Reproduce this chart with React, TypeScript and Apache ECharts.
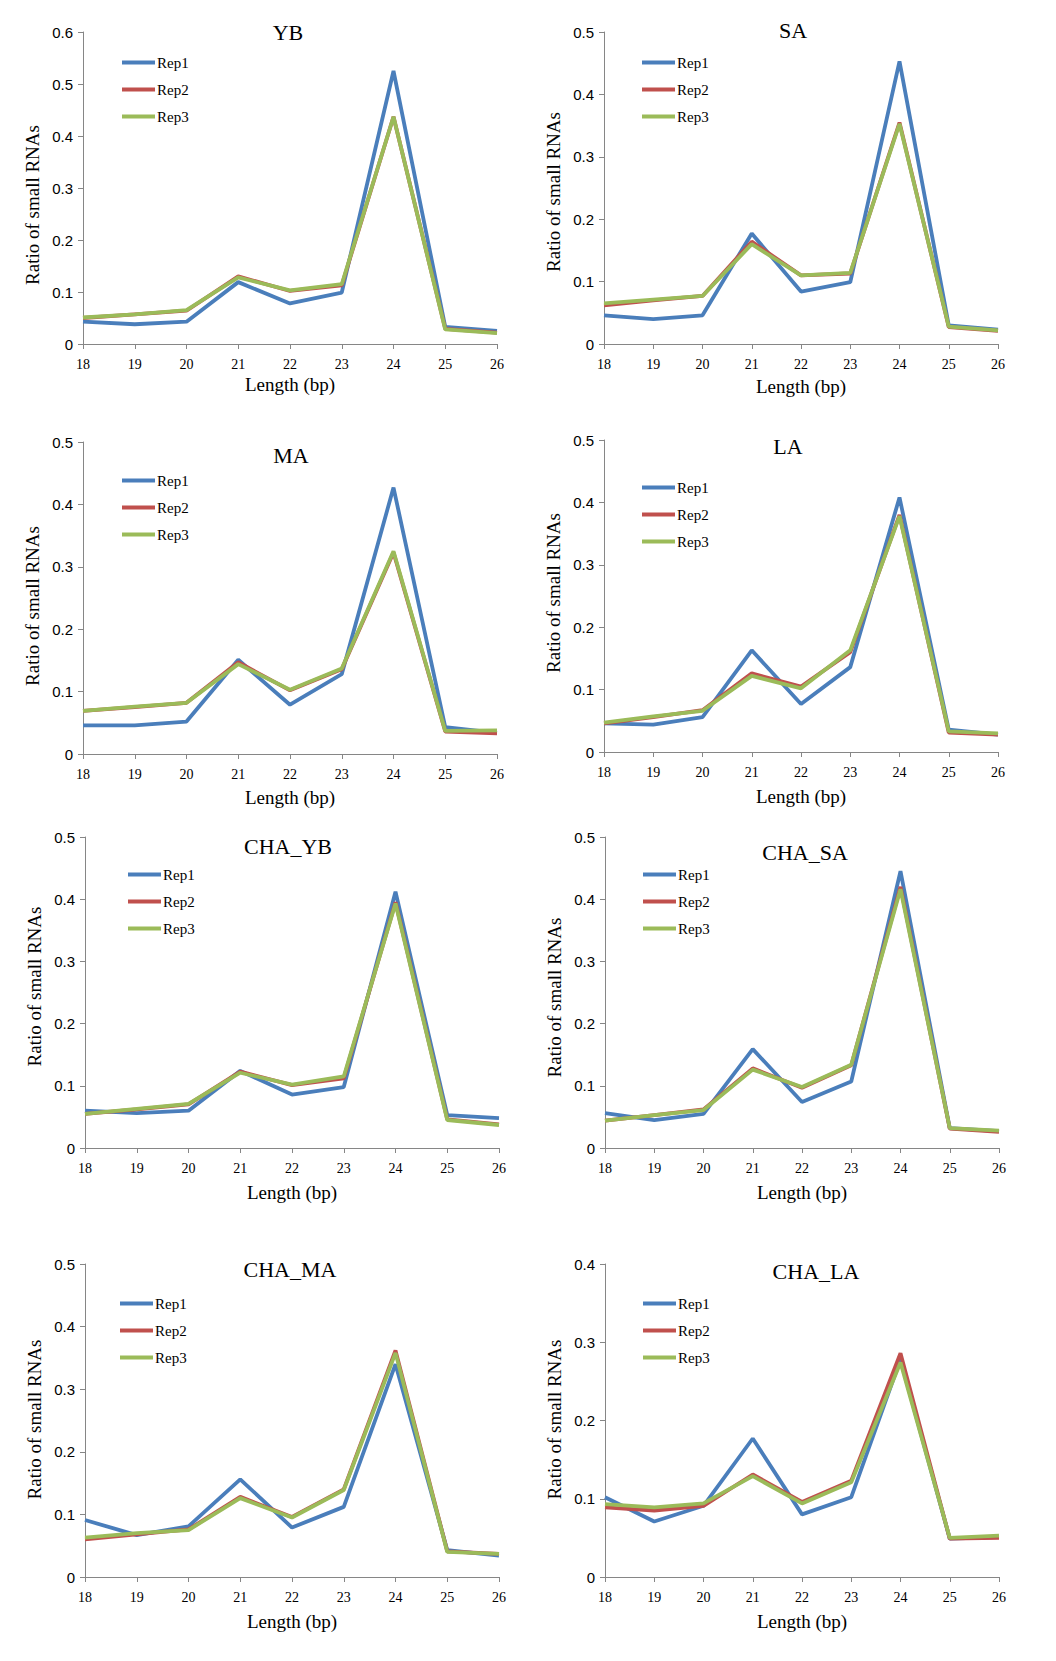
import React, { useEffect, useRef } from 'react';
import * as echarts from 'echarts';

// x categories (small RNA length, bp)
const lengths = ['18', '19', '20', '21', '22', '23', '24', '25', '26'];
const repNames = ['Rep1', 'Rep2', 'Rep3'];
const repColors = ['#4A7EBB', '#C0504D', '#9BBB59'];

const panelTitles = ['YB', 'SA', 'MA', 'LA', 'CHA_YB', 'CHA_SA', 'CHA_MA', 'CHA_LA'];
const yMaxes = [0.6, 0.5, 0.5, 0.5, 0.5, 0.5, 0.5, 0.4];

// each row: Rep1, Rep2, Rep3
const ybReps = [
  [0.043, 0.038, 0.043, 0.119, 0.078, 0.099, 0.525, 0.033, 0.025],
  [0.05, 0.057, 0.064, 0.13, 0.102, 0.113, 0.437, 0.029, 0.022],
  [0.051, 0.057, 0.065, 0.128, 0.103, 0.115, 0.437, 0.028, 0.021],
];
const saReps = [
  [0.046, 0.04, 0.046, 0.177, 0.084, 0.099, 0.453, 0.03, 0.023],
  [0.062, 0.07, 0.077, 0.164, 0.11, 0.113, 0.355, 0.027, 0.021],
  [0.065, 0.071, 0.077, 0.16, 0.11, 0.114, 0.353, 0.028, 0.022],
];
const maReps = [
  [0.046, 0.046, 0.052, 0.151, 0.079, 0.128, 0.427, 0.043, 0.034],
  [0.069, 0.075, 0.082, 0.147, 0.102, 0.136, 0.323, 0.036, 0.033],
  [0.069, 0.076, 0.082, 0.144, 0.103, 0.137, 0.325, 0.037, 0.038],
];
const laReps = [
  [0.046, 0.044, 0.056, 0.163, 0.077, 0.136, 0.408, 0.036, 0.028],
  [0.046, 0.056, 0.067, 0.126, 0.105, 0.16, 0.38, 0.031, 0.028],
  [0.047, 0.057, 0.066, 0.122, 0.102, 0.163, 0.378, 0.033, 0.03],
];
const chaYbReps = [
  [0.06, 0.056, 0.06, 0.124, 0.086, 0.098, 0.412, 0.053, 0.048],
  [0.055, 0.062, 0.07, 0.123, 0.101, 0.112, 0.395, 0.046, 0.038],
  [0.055, 0.063, 0.071, 0.121, 0.102, 0.115, 0.393, 0.045, 0.037],
];
const chaSaReps = [
  [0.056, 0.045, 0.055, 0.159, 0.074, 0.107, 0.445, 0.032, 0.027],
  [0.044, 0.053, 0.062, 0.128, 0.097, 0.133, 0.42, 0.031, 0.026],
  [0.044, 0.053, 0.061, 0.126, 0.098, 0.134, 0.416, 0.032, 0.028],
];
const chaMaReps = [
  [0.091, 0.067, 0.081, 0.156, 0.079, 0.112, 0.34, 0.043, 0.034],
  [0.06, 0.068, 0.076, 0.128, 0.096, 0.14, 0.362, 0.041, 0.037],
  [0.063, 0.07, 0.075, 0.126, 0.095, 0.139, 0.358, 0.04, 0.037],
];
const chaLaReps = [
  [0.102, 0.071, 0.091, 0.177, 0.08, 0.102, 0.278, 0.049, 0.051],
  [0.089, 0.085, 0.091, 0.131, 0.096, 0.123, 0.286, 0.049, 0.05],
  [0.093, 0.089, 0.094, 0.129, 0.094, 0.121, 0.274, 0.05, 0.053],
];

const panelData = [ybReps, saReps, maReps, laReps, chaYbReps, chaSaReps, chaMaReps, chaLaReps];

// layout: plot box, title centre, legend top-left, y-name shift
const grids = [
  { left: 83, top: 32, width: 414, height: 312 },
  { left: 604, top: 32, width: 394, height: 312 },
  { left: 83, top: 442, width: 414, height: 312 },
  { left: 604, top: 440, width: 394, height: 312 },
  { left: 85, top: 837, width: 414, height: 311 },
  { left: 605, top: 837, width: 394, height: 311 },
  { left: 85, top: 1264, width: 414, height: 313 },
  { left: 605, top: 1264, width: 394, height: 313 },
];
const titlePos = [
  [283, 29], [788, 27], [286, 452], [783, 443],
  [283, 843], [800, 849], [285, 1266], [811, 1268],
];
const legendPos = [
  [117, 58], [637, 58], [117, 476], [637, 483],
  [123, 870], [638, 870], [115, 1299], [638, 1299],
];
const yNameShift = [17, 4, 8, -3, -6, 5, -1, -1];
const xNameGap = [31, 33, 34, 35, 35, 35, 35, 35];

const serif = 'Liberation Serif';
const sans = 'Liberation Sans';

const App: React.FC = () => {
  const chartRef = useRef<HTMLDivElement | null>(null);

  useEffect(() => {
    if (!chartRef.current) return;
    const chart = echarts.init(chartRef.current, undefined, { renderer: 'svg' });

    const series: any[] = [];
    panelData.forEach((reps, p) => {
      reps.forEach((values, r) => {
        series.push({
          type: 'line',
          name: repNames[r],
          xAxisIndex: p,
          yAxisIndex: p,
          data: values,
          symbol: 'none',
          lineStyle: { color: repColors[r], width: 3.8 },
          itemStyle: { color: repColors[r] },
          z: 2 + r,
        });
      });
    });

    const option = {
      animation: false,
      backgroundColor: '#fff',
      title: panelTitles.map((t, i) => ({
        text: t,
        left: titlePos[i][0],
        top: titlePos[i][1] - 13,
        textAlign: 'center',
        textStyle: { fontFamily: serif, fontSize: 22, fontWeight: 'normal', color: '#000' },
      })),
      legend: legendPos.map((pos) => ({
        data: repNames,
        orient: 'vertical',
        left: pos[0],
        top: pos[1] - 8,
        icon: 'rect',
        itemWidth: 33,
        itemHeight: 4,
        itemGap: 12,
        selectedMode: false,
        textStyle: { fontFamily: serif, fontSize: 15, color: '#000', padding: [0, 0, 0, -3] },
      })),
      grid: grids.map((g) => ({ ...g, containLabel: false })),
      xAxis: grids.map((_, i) => ({
        type: 'category',
        gridIndex: i,
        data: lengths,
        boundaryGap: false,
        name: 'Length (bp)',
        nameLocation: 'middle',
        nameGap: xNameGap[i],
        nameTextStyle: { fontFamily: serif, fontSize: 19, color: '#000' },
        axisLine: { show: true, lineStyle: { color: '#868686', width: 1 } },
        axisTick: { show: true, length: 5, alignWithLabel: true, lineStyle: { color: '#868686' } },
        axisLabel: { fontFamily: serif, fontSize: 14, color: '#000', margin: 13 },
        splitLine: { show: false },
      })),
      yAxis: grids.map((_, i) => {
        const s = yNameShift[i];
        return {
          type: 'value',
          gridIndex: i,
          min: 0,
          max: yMaxes[i],
          interval: 0.1,
          name: 'Ratio of small RNAs',
          nameLocation: 'middle',
          nameRotate: 90,
          nameGap: 41,
          nameTextStyle: {
            fontFamily: serif,
            fontSize: 19,
            color: '#000',
            padding: s >= 0 ? [0, 2 * s, 0, 0] : [0, 0, 0, -2 * s],
          },
          axisLine: { show: true, lineStyle: { color: '#868686', width: 1 } },
          axisTick: { show: true, length: 5, lineStyle: { color: '#868686' } },
          axisLabel: { fontFamily: sans, fontSize: 15, color: '#000', margin: 10 },
          splitLine: { show: false },
        };
      }),
      series,
    };

    chart.setOption(option);

    return () => {
      chart.dispose();
    };
  }, []);

  return (
    <div
      ref={chartRef}
      style={{ position: 'absolute', left: 0, top: 0, width: 1056, height: 1661 }}
    ></div>
  );
};

export default App;
